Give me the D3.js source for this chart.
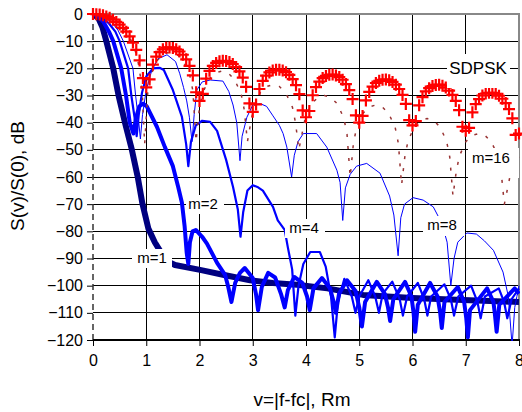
<!DOCTYPE html>
<html>
<head>
<meta charset="UTF-8">
<title>Spectra</title>
<script src="https://cdn.jsdelivr.net/npm/d3@7"></script>
<style>
    body { margin: 0; background: #fff; }
    text { font-family: Arial, "Liberation Sans", sans-serif; fill: #000; }
</style>
</head>
<body>
<svg width="522" height="412"></svg>
<script>

// axis ticks
var xTicks = [0, 1, 2, 3, 4, 5, 6, 7, 8];
var yTicks = [0, -10, -20, -30, -40, -50, -60, -70, -80, -90, -100, -110, -120];

// SDPSK, sampled every 1/16 Rm
var sdpskStep = 1 / 16;
var sdpskY = [
    0, -0.1, -0.2, -0.5, -0.9, -1.4, -2.1, -2.9, -3.9, -5.1, -6.5, -8.2, -10.5, -13.2, -17.1, -23.6,
    -27, -24.1, -18.6, -15.7, -14.0, -13.0, -12.4, -12.3, -12.5, -13.0, -13.8, -15.0, -16.7, -19.1, -22.6, -28.8,
    -32, -29.4, -23.8, -20.9, -19.1, -18.0, -17.4, -17.2, -17.3, -17.7, -18.4, -19.5, -21.1, -23.4, -26.8, -32.9,
    -36, -33.3, -27.6, -24.6, -22.7, -21.5, -20.8, -20.5, -20.5, -20.8, -21.4, -22.4, -24.0, -26.2, -29.5, -35.5,
    -38, -35.7, -29.9, -26.9, -24.9, -23.6, -22.8, -22.4, -22.3, -22.6, -23.2, -24.2, -25.8, -28.0, -31.3, -37.3,
    -40, -37.5, -31.8, -28.7, -26.7, -25.4, -24.6, -24.2, -24.1, -24.4, -25.0, -26.0, -27.6, -29.8, -33.1, -39.1,
    -41, -39.4, -33.6, -30.6, -28.5, -27.3, -26.5, -26.1, -26.0, -26.4, -27.1, -28.2, -29.8, -32.0, -35.4, -41.5,
    -43, -41.9, -36.2, -33.2, -31.3, -30.0, -29.3, -29.0, -29.0, -29.4, -30.1, -31.2, -32.8, -35.0, -38.4, -44.5,
    -44
];

var m1 = [[0, 0], [0.1, -1.5], [0.18, -5], [0.25, -10], [0.38, -20], [0.48, -30], [0.6, -40], [0.73, -50],
    [0.84, -60], [0.93, -70], [1.04, -79], [1.16, -84], [1.3, -88.5], [1.45, -91.5], [1.54, -92.4], [2.01, -94.2],
    [2.44, -96], [2.95, -98], [3.38, -99], [3.83, -99.7], [4.4, -101], [5.07, -103.4], [6.0, -104.5],
    [6.95, -105.3], [8, -106]];

var m2 = [[0, 0], [0.1, -0.8], [0.2, -3], [0.3, -6.5], [0.38, -10], [0.53, -20], [0.62, -30], [0.69, -40],
    [0.76, -44], [0.81, -38], [0.87, -34], [0.94, -33], [1.01, -34], [1.2, -41.5], [1.35, -49], [1.5, -56],
    [1.6, -63.7], [1.67, -69.5], [1.72, -78], [1.76, -88], [1.79, -92], [1.82, -84], [1.87, -80], [1.93, -79.5],
    [2.05, -82], [2.14, -84.5], [2.33, -91.6], [2.48, -96], [2.54, -100.5], [2.6, -106], [2.67, -99],
    [2.76, -95.3], [2.85, -93.5], [3.0, -97.2], [3.06, -103], [3.1, -109], [3.17, -100.5], [3.29, -95.3],
    [3.42, -97], [3.53, -103], [3.6, -108], [3.66, -101.6], [3.78, -96.8], [3.93, -99], [4.02, -104],
    [4.07, -109], [4.14, -101], [4.3, -97.2], [4.45, -101], [4.52, -106], [4.56, -110], [4.62, -103],
    [4.77, -98], [4.93, -102], [5.0, -108], [5.05, -115], [5.11, -106], [5.33, -98.6], [5.48, -103],
    [5.54, -108], [5.58, -113], [5.64, -105], [5.86, -98.6], [5.98, -104], [6.02, -110], [6.05, -117],
    [6.1, -107], [6.33, -99], [6.47, -104], [6.52, -110], [6.55, -115.6], [6.6, -106], [6.85, -100.5],
    [6.97, -106], [7.01, -112], [7.04, -119], [7.08, -109], [7.4, -101], [7.52, -106], [7.55, -111],
    [7.58, -117], [7.63, -107], [7.92, -101], [8, -103]];

var m4 = [[0, 0], [0.15, -1], [0.3, -3.5], [0.42, -6.5], [0.5, -10], [0.66, -20], [0.72, -30], [0.78, -38],
    [0.82, -45], [0.86, -37], [0.92, -29], [1.0, -23], [1.13, -20], [1.25, -19.8], [1.33, -20.6], [1.5, -28],
    [1.67, -37.9], [1.75, -48], [1.79, -56], [1.84, -47], [1.93, -41], [2.05, -39.3], [2.2, -39.7],
    [2.33, -43], [2.5, -53.7], [2.63, -63.7], [2.72, -72], [2.77, -82], [2.82, -73], [2.9, -65], [3.0, -63],
    [3.1, -63.8], [3.19, -65], [3.38, -71], [3.47, -76], [3.6, -79.5], [3.66, -86], [3.74, -94], [3.8, -111],
    [3.86, -100], [3.95, -92], [4.08, -87.6], [4.26, -87.6], [4.37, -93], [4.47, -104], [4.54, -119],
    [4.6, -106], [4.72, -97.5], [4.86, -104], [4.93, -110], [5.0, -104], [5.17, -98], [5.3, -104],
    [5.37, -110], [5.44, -103], [5.62, -98.5], [5.76, -105], [5.82, -111], [5.9, -104], [6.1, -99],
    [6.22, -105], [6.28, -111], [6.35, -104], [6.6, -99.5], [6.72, -105], [6.78, -111], [6.86, -104],
    [7.1, -100], [7.22, -106], [7.28, -112], [7.36, -104], [7.62, -101], [7.72, -106], [7.78, -112],
    [7.86, -105], [8, -101]];

var m8 = [[0, 0], [0.2, -1], [0.35, -3], [0.47, -6], [0.57, -10], [0.75, -20], [0.8, -30], [0.86, -40],
    [0.89, -46], [0.93, -37], [1.0, -28], [1.1, -21], [1.22, -16.5], [1.39, -15], [1.55, -17.5], [1.63, -22],
    [1.7, -27], [1.76, -32], [1.81, -38], [1.86, -47], [1.9, -37], [1.95, -28], [2.05, -25], [2.2, -24.3],
    [2.44, -24.7], [2.55, -28.5], [2.63, -33.5], [2.7, -40], [2.76, -54], [2.8, -45], [2.89, -38],
    [3.0, -33.5], [3.14, -33], [3.26, -34], [3.38, -37.5], [3.5, -41], [3.57, -44], [3.64, -49], [3.73, -60],
    [3.78, -52], [3.85, -47], [3.95, -44], [4.2, -44], [4.39, -49], [4.58, -57.5], [4.64, -62], [4.69, -76],
    [4.74, -64], [4.83, -59], [4.95, -56], [5.14, -55], [5.39, -58.6], [5.57, -67], [5.65, -74], [5.73, -89],
    [5.78, -75], [5.85, -70], [6.01, -67.6], [6.2, -68.5], [6.39, -71], [6.55, -77], [6.65, -84],
    [6.72, -100], [6.78, -90], [6.85, -84], [7.02, -80.6], [7.2, -81], [7.35, -83.5], [7.52, -87],
    [7.7, -95], [7.8, -104], [7.87, -122], [7.92, -108], [7.96, -104], [8, -100]];

var m16 = [[0, 0], [0.2, -0.5], [0.4, -2], [0.55, -4.5], [0.65, -7], [0.72, -10], [0.8, -14], [0.85, -18],
    [0.89, -23], [0.93, -31], [0.97, -48],
    [1.03, -28.2], [1.09, -22.3], [1.21, -17], [1.33, -14.7], [1.45, -14], [1.57, -14.7], [1.69, -17],
    [1.815, -22.3], [1.875, -28.2], [1.935, -47],
    [1.995, -35.2], [2.055, -29.3], [2.175, -24], [2.295, -21.7], [2.415, -21], [2.535, -21.7], [2.655, -24],
    [2.78, -29.3], [2.84, -35.2], [2.9, -47],
    [2.96, -40.2], [3.02, -34.3], [3.14, -29], [3.26, -26.7], [3.38, -26], [3.5, -26.7], [3.62, -29],
    [3.745, -34.3], [3.805, -40.2], [3.865, -50],
    [3.925, -44.2], [3.985, -38.3], [4.105, -33], [4.225, -30.7], [4.345, -30], [4.465, -30.7], [4.585, -33],
    [4.71, -38.3], [4.77, -44.2], [4.83, -60],
    [4.89, -47.7], [4.95, -41.8], [5.07, -36.5], [5.19, -34.2], [5.31, -33.5], [5.43, -34.2], [5.55, -36.5],
    [5.675, -41.8], [5.735, -47.7], [5.795, -63],
    [5.855, -52.7], [5.915, -46.8], [6.035, -41.5], [6.155, -39.2], [6.275, -38.5], [6.395, -39.2],
    [6.515, -41.5], [6.64, -46.8], [6.7, -52.7], [6.76, -67],
    [6.82, -58.2], [6.88, -52.3], [7.0, -47], [7.12, -44.7], [7.24, -44], [7.36, -44.7], [7.48, -47],
    [7.605, -52.3], [7.665, -58.2], [7.725, -70],
    [7.785, -64.2], [7.845, -58.3], [7.965, -53], [8, -52.5]];

// label boxes: text, box x/y/w/h, text anchor point
var labels = [
    { t: "m=1", bx: 132, by: 249, bw: 40, bh: 19, tx: 152, ty: 263 },
    { t: "m=2", bx: 186, by: 195, bw: 38, bh: 19, tx: 203, ty: 209 },
    { t: "m=4", bx: 285, by: 219, bw: 40, bh: 19, tx: 304, ty: 233 },
    { t: "m=8", bx: 423, by: 216, bw: 42, bh: 20, tx: 442, ty: 230 },
    { t: "m=16", bx: 468, by: 148, bw: 51, bh: 30, tx: 491, ty: 163 },
    { t: "SDPSK", bx: 447, by: 54, bw: 63, bh: 34, tx: 478, ty: 74 }
];

var svg = d3.select("svg");
var padL = 93, padR = 519, padT = 14, padB = 340;

var x = d3.scaleLinear().domain([0, 8]).range([padL, padR]);
var y = d3.scaleLinear().domain([-120, 0]).range([padB, padT]);

svg.append("defs").append("clipPath").attr("id", "plot")
    .append("rect").attr("x", padL).attr("y", padT - 1)
    .attr("width", padR - padL + 1).attr("height", padB - padT + 2);

// grid
var grid = svg.append("g").attr("shape-rendering", "crispEdges");
grid.selectAll(".gx").data(xTicks.filter(function (d) { return d > 0 && d < 8; }))
    .enter().append("line")
    .attr("x1", function (d) { return x(d); }).attr("x2", function (d) { return x(d); })
    .attr("y1", padT).attr("y2", padB)
    .attr("stroke", "#000").attr("stroke-width", 1);
grid.selectAll(".gy").data(yTicks.filter(function (d) { return d < 0 && d > -120; }))
    .enter().append("line")
    .attr("x1", padL).attr("x2", padR)
    .attr("y1", function (d) { return y(d); }).attr("y2", function (d) { return y(d); })
    .attr("stroke", "#000").attr("stroke-width", 1);

// top / right border
grid.append("path")
    .attr("d", "M" + padL + "," + padT + "H" + padR + "V" + padB)
    .attr("fill", "none").attr("stroke", "#888").attr("stroke-width", 2);

// axes
var yAxis = d3.axisLeft(y).tickValues(yTicks).tickSize(6).tickPadding(4);
var gy = svg.append("g").attr("transform", "translate(" + padL + ",0)").call(yAxis);
gy.select(".domain").remove();
gy.selectAll(".tick line").attr("stroke", "#000");
gy.selectAll("text").style("font-size", "16px").attr("fill", "#000");

var xAxis = d3.axisBottom(x).tickValues(xTicks).tickSize(6).tickPadding(9);
var gx = svg.append("g").attr("transform", "translate(0," + padB + ")").call(xAxis);
gx.select(".domain").remove();
gx.selectAll(".tick line").attr("stroke", "#000");
gx.selectAll("text").style("font-size", "16px").attr("fill", "#000");

svg.append("line").attr("x1", padL).attr("x2", padL).attr("y1", padT).attr("y2", padB)
    .attr("stroke", "#333").attr("stroke-width", 1.5).attr("stroke-dasharray", "6,4");
svg.append("line").attr("x1", padL).attr("x2", padR + 1).attr("y1", padB).attr("y2", padB)
    .attr("stroke", "#000").attr("stroke-width", 2);

// series
var line = d3.line()
    .x(function (d) { return x(d[0]); })
    .y(function (d) { return y(d[1]); });

var plot = svg.append("g").attr("clip-path", "url(#plot)");

var series = [
    { data: m1, color: "#000080", width: 6, dash: null },
    { data: m2, color: "#0000ff", width: 4, dash: null },
    { data: m4, color: "#0000ff", width: 2.2, dash: null },
    { data: m8, color: "#0000ff", width: 1, dash: null },
    { data: m16, color: "#993333", width: 1.5, dash: "3,9" }
];

series.forEach(function (s) {
    plot.append("path")
        .attr("d", line(s.data))
        .attr("fill", "none")
        .attr("stroke", s.color)
        .attr("stroke-width", s.width)
        .attr("stroke-linejoin", "round")
        .attr("stroke-dasharray", s.dash);
});

// SDPSK markers
var sdpsk = sdpskY.map(function (v, i) { return [i * sdpskStep, v]; });
svg.append("g").selectAll("path").data(sdpsk).enter().append("path")
    .attr("transform", function (d) { return "translate(" + x(d[0]) + "," + y(d[1]) + ")"; })
    .attr("d", "M-6,0H6M0,-6V6")
    .attr("stroke", "#ff0000").attr("stroke-width", 2.2).attr("fill", "none");

// series labels
var lab = svg.append("g").selectAll("g").data(labels).enter().append("g");
lab.append("rect")
    .attr("x", function (d) { return d.bx; }).attr("y", function (d) { return d.by; })
    .attr("width", function (d) { return d.bw; }).attr("height", function (d) { return d.bh; })
    .attr("fill", "#fff");
lab.append("text")
    .attr("x", function (d) { return d.tx; }).attr("y", function (d) { return d.ty; })
    .attr("text-anchor", "middle")
    .style("font-size", function (d) { return d.t === "SDPSK" ? "17px" : "15px"; })
    .text(function (d) { return d.t; });

// axis titles
svg.append("text")
    .attr("transform", "translate(24,176) rotate(-90)")
    .attr("text-anchor", "middle")
    .style("font-size", "19px")
    .text("S(v)/S(0), dB");

svg.append("text")
    .attr("x", 302).attr("y", 406)
    .attr("text-anchor", "middle")
    .style("font-size", "19px")
    .text("v=|f-fc|, Rm");

</script>
</body>
</html>
